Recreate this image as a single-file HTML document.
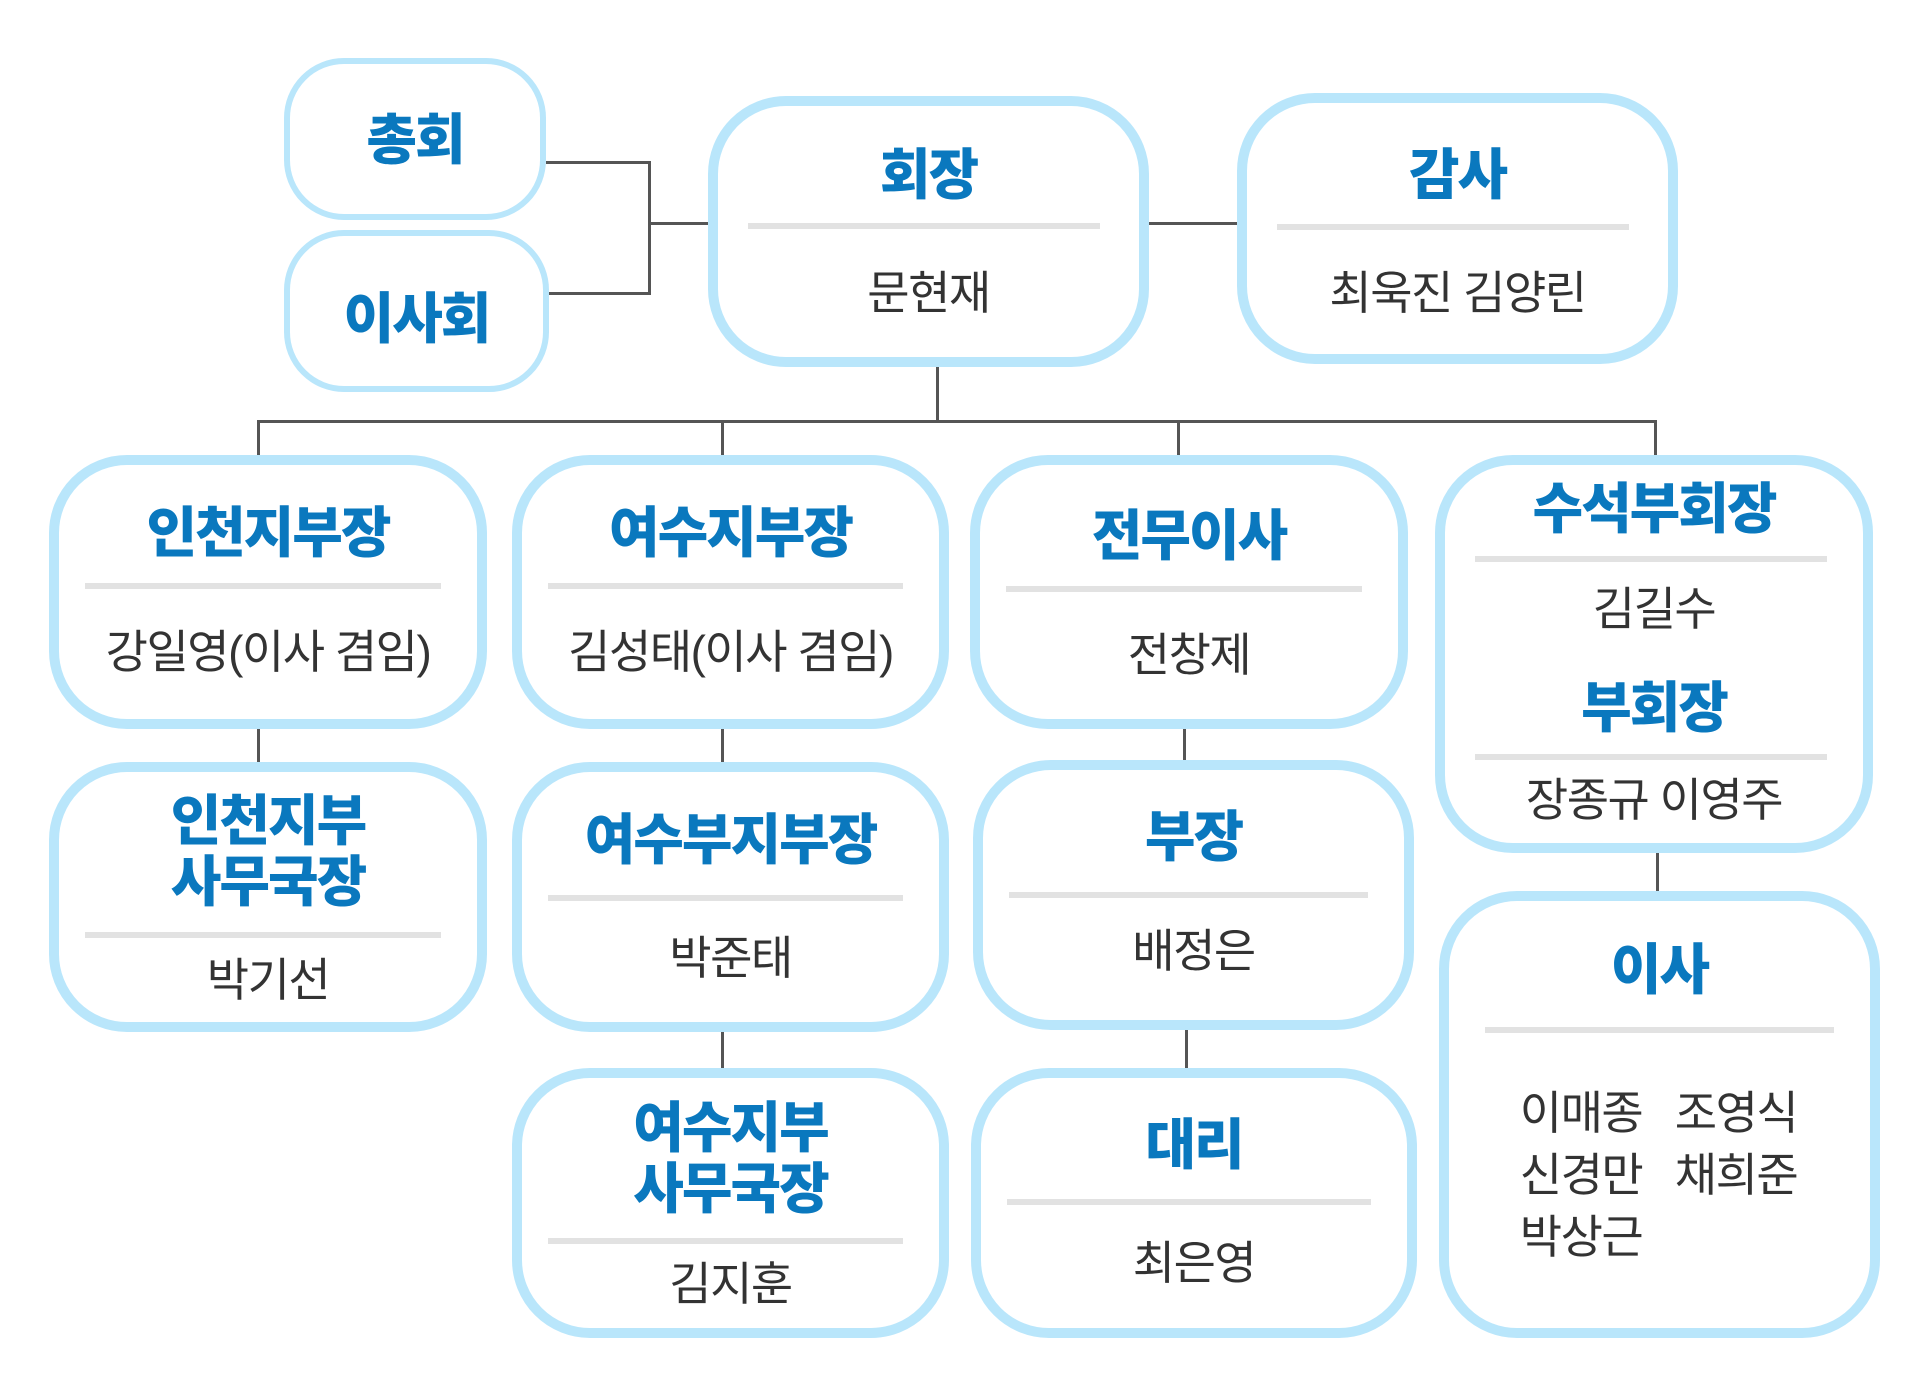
<!DOCTYPE html>
<html><head><meta charset="utf-8"><style>
body{margin:0;width:1920px;height:1386px;background:#fff;position:relative;overflow:hidden;font-family:"Liberation Sans","Noto Sans CJK KR",sans-serif}
.b{position:absolute;box-sizing:border-box;border:10px solid #b9e6fb;border-radius:78px;background:#fff}
.t{position:absolute;left:-20px;right:-20px;text-align:center;color:#0a78be;font-weight:900;font-size:55px;line-height:62px;letter-spacing:-2px}
.n{position:absolute;left:-20px;right:-20px;text-align:center;color:#333;font-size:46px;line-height:54px;letter-spacing:-1.5px}
.d{position:absolute;height:6px;background:#e2e2e2}
.l{position:absolute;background:#555}
.h{height:3px}.v{width:3px}
</style></head><body>
<div class="l h" style="left:546px;top:161px;width:104px"></div>
<div class="l h" style="left:549px;top:292px;width:101px"></div>
<div class="l v" style="left:648px;top:161px;height:134px"></div>
<div class="l h" style="left:648px;top:222px;width:62px"></div>
<div class="l h" style="left:1149px;top:222px;width:90px"></div>
<div class="l v" style="left:936px;top:365px;height:57px"></div>
<div class="l h" style="left:257px;top:420px;width:1400px"></div>
<div class="l v" style="left:257px;top:420px;height:38px"></div>
<div class="l v" style="left:721px;top:420px;height:38px"></div>
<div class="l v" style="left:1177px;top:420px;height:38px"></div>
<div class="l v" style="left:1654px;top:420px;height:38px"></div>
<div class="l v" style="left:257px;top:727px;height:37px"></div>
<div class="l v" style="left:721px;top:727px;height:37px"></div>
<div class="l v" style="left:721px;top:1030px;height:40px"></div>
<div class="l v" style="left:1183px;top:727px;height:37px"></div>
<div class="l v" style="left:1185px;top:1029px;height:41px"></div>
<div class="l v" style="left:1656px;top:851px;height:42px"></div>

<div class="b" style="left:284px;top:58px;width:262px;height:162px;border-radius:60px;border-width:6px"><div class="t" style="top:45px">총회</div></div>
<div class="b" style="left:284px;top:230px;width:265px;height:162px;border-radius:60px;border-width:6px"><div class="t" style="top:52px">이사회</div></div>

<div class="b" style="left:708px;top:96px;width:441px;height:271px"><div class="t" style="top:38px">회장</div><div class="d" style="left:30px;right:39px;top:117px"></div><div class="n" style="top:160px">문현재</div></div>
<div class="b" style="left:1237px;top:93px;width:441px;height:271px"><div class="t" style="top:41px">감사</div><div class="d" style="left:30px;right:39px;top:121px"></div><div class="n" style="top:163px">최욱진 김양린</div></div>

<div class="b" style="left:49px;top:455px;width:438px;height:274px"><div class="t" style="top:37px">인천지부장</div><div class="d" style="left:26px;right:36px;top:118px"></div><div class="n" style="top:160px">강일영(이사 겸임)</div></div>
<div class="b" style="left:512px;top:455px;width:437px;height:274px"><div class="t" style="top:37px">여수지부장</div><div class="d" style="left:26px;right:36px;top:118px"></div><div class="n" style="top:160px">김성태(이사 겸임)</div></div>
<div class="b" style="left:970px;top:455px;width:438px;height:274px"><div class="t" style="top:40px">전무이사</div><div class="d" style="left:26px;right:36px;top:121px"></div><div class="n" style="top:163px">전창제</div></div>
<div class="b" style="left:1435px;top:455px;width:438px;height:398px"><div class="t" style="top:13px">수석부회장</div><div class="d" style="left:30px;right:36px;top:91px"></div><div class="n" style="top:117px">김길수</div><div class="t" style="top:212px">부회장</div><div class="d" style="left:30px;right:36px;top:289px"></div><div class="n" style="top:308px">장종규 이영주</div></div>

<div class="b" style="left:49px;top:762px;width:438px;height:270px"><div class="t" style="top:19px;line-height:61px">인천지부<br>사무국장</div><div class="d" style="left:26px;right:36px;top:160px"></div><div class="n" style="top:181px">박기선</div></div>
<div class="b" style="left:512px;top:762px;width:437px;height:270px"><div class="t" style="top:37px">여수부지부장</div><div class="d" style="left:26px;right:36px;top:123px"></div><div class="n" style="top:159px">박준태</div></div>
<div class="b" style="left:973px;top:760px;width:441px;height:270px"><div class="t" style="top:36px">부장</div><div class="d" style="left:26px;right:36px;top:122px"></div><div class="n" style="top:154px">배정은</div></div>

<div class="b" style="left:512px;top:1068px;width:437px;height:270px"><div class="t" style="top:20px;line-height:61px">여수지부<br>사무국장</div><div class="d" style="left:26px;right:36px;top:160px"></div><div class="n" style="top:179px">김지훈</div></div>
<div class="b" style="left:971px;top:1068px;width:446px;height:270px"><div class="t" style="top:36px">대리</div><div class="d" style="left:26px;right:36px;top:121px"></div><div class="n" style="top:158px">최은영</div></div>

<div class="b" style="left:1439px;top:891px;width:441px;height:447px"><div class="t" style="top:38px">이사</div><div class="d" style="left:36px;right:36px;top:126px"></div>
<div class="n" style="left:42px;right:auto;width:180px;top:181px;line-height:62px">이매종<br>신경만<br>박상근</div>
<div class="n" style="left:197px;right:auto;width:180px;top:181px;line-height:62px">조영식<br>채희준</div></div>
</body></html>
